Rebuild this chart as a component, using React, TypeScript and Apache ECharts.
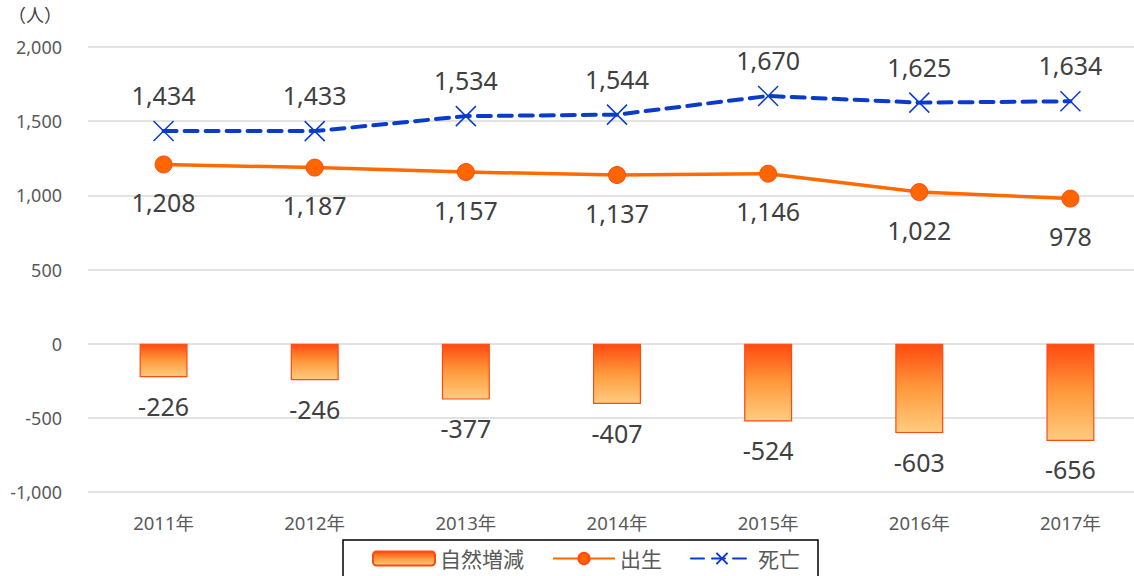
import React, { useEffect, useRef } from "react";
import * as echarts from "echarts";

const categories = ["2011年", "2012年", "2013年", "2014年", "2015年", "2016年", "2017年"];
const naturalChange = [-226, -246, -377, -407, -524, -603, -656];
const births = [1208, 1187, 1157, 1137, 1146, 1022, 978];
const deaths = [1434, 1433, 1534, 1544, 1670, 1625, 1634];
const yTicks = { min: -1000, max: 2000, interval: 500 };

const fmt = (v: number) => v.toLocaleString("en-US");
const FONT = "'Noto Sans', 'Noto Sans CJK JP', sans-serif";

export default function App() {
  const ref = useRef<HTMLDivElement>(null);
  useEffect(() => {
    if (!ref.current) return;
    const chart = echarts.init(ref.current, null, { renderer: "svg" });
    chart.setOption({
      animation: false,
      textStyle: { fontFamily: FONT },
      graphic: [
        {
          type: "text",
          left: 8,
          top: 6,
          style: { text: "（人）", fontSize: 18, fill: "#404040", fontFamily: FONT },
        },
      ],
      grid: { left: 88, top: 47, width: 1058, bottom: 84, containLabel: false },
      legend: {
        left: 343,
        top: 540,
        padding: [8, 18, 30, 29],
        borderColor: "#000",
        borderWidth: 1.5,
        itemWidth: 62,
        itemHeight: 14,
        itemGap: 28,
        textStyle: { fontSize: 21, color: "#595959", fontFamily: FONT },
        data: ["自然増減", "出生", "死亡"],
      },
      xAxis: {
        type: "category",
        data: categories,
        axisLine: { show: false, onZero: false },
        axisTick: { show: false },
        axisLabel: { fontSize: 18.5, color: "#595959", margin: 21, fontFamily: FONT },
      },
      yAxis: {
        type: "value",
        min: yTicks.min,
        max: yTicks.max,
        interval: yTicks.interval,
        axisLabel: {
          fontSize: 18,
          color: "#595959",
          margin: 26,
          formatter: (v: number) => fmt(v),
          fontFamily: FONT,
        },
        splitLine: { lineStyle: { color: "#D9D9D9", width: 1.5 } },
      },
      series: [
        {
          name: "自然増減",
          type: "bar",
          data: naturalChange,
          barWidth: 48,
          itemStyle: {
            color: new echarts.graphic.LinearGradient(0, 0, 0, 1, [
              { offset: 0, color: "#FF4A10" },
              { offset: 0.5, color: "#FF9A3C" },
              { offset: 1, color: "#FFCC80" },
            ]),
            borderColor: "#FF4A10",
            borderWidth: 1.2,
          },
          label: {
            show: true,
            position: "bottom",
            distance: 16,
            fontSize: 25,
            color: "#404040",
            formatter: (p: any) => fmt(p.value),
            fontFamily: FONT,
          },
          z: 2,
        },
        {
          name: "出生",
          type: "line",
          data: births,
          symbol: "circle",
          symbolSize: 17,
          lineStyle: { color: "#FF6A00", width: 3.5 },
          itemStyle: { color: "#FF6600", borderColor: "#FF4A10", borderWidth: 1 },
          label: {
            show: true,
            position: "bottom",
            distance: 16,
            fontSize: 25,
            color: "#404040",
            formatter: (p: any) => fmt(p.value),
            fontFamily: FONT,
          },
          z: 3,
        },
        {
          name: "死亡",
          type: "line",
          data: deaths,
          symbol: "path://M0,0L10,10M10,0L0,10",
          symbolSize: 20,
          lineStyle: { color: "#0A3CCC", width: 4, type: [13, 8], cap: "round" },
          itemStyle: { color: "none", borderColor: "#0A3CCC", borderWidth: 1.5 },
          label: {
            show: true,
            position: "top",
            distance: 11,
            fontSize: 25,
            color: "#404040",
            formatter: (p: any) => fmt(p.value),
            fontFamily: FONT,
          },
          z: 3,
        },
      ],
    });
    return () => chart.dispose();
  }, []);
  return (
    <div style={{ position: "absolute", left: 0, top: 0, width: 1134, height: 576, overflow: "hidden" }}>
      <div ref={ref} style={{ width: 1160, height: 576 }} />
    </div>
  );
}
